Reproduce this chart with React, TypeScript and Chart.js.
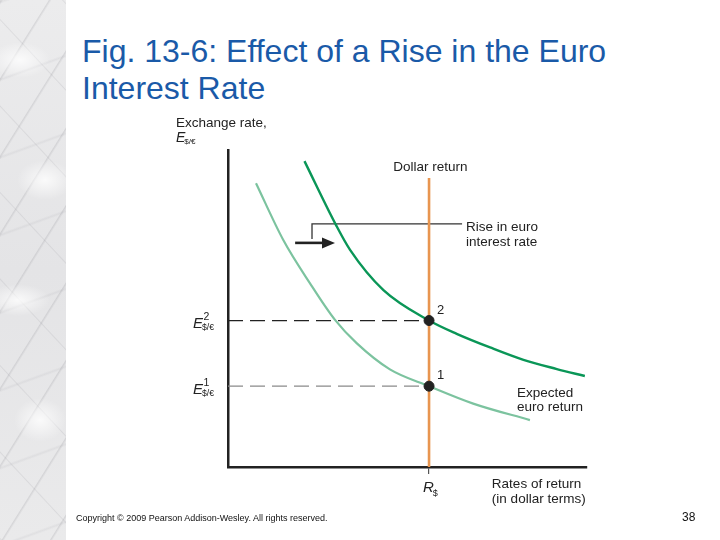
import React, { useEffect, useRef } from 'react';
import { Chart, registerables } from 'chart.js';

Chart.register(...registerables);

// ---- Data (axis units: 0..10 on both axes) ----
const RS = 5.6; // dollar interest rate
const E1 = 2.55; // initial equilibrium exchange rate
const E2 = 4.62; // new equilibrium exchange rate
const DOLLAR_TOP = 9.12;

const euroHighX = [2.13, 3.01, 3.4, 4.33, 5.6, 6.37, 7.3, 8.23, 9.16, 9.94];
const euroHighY = [9.65, 7.63, 6.85, 5.58, 4.62, 4.2, 3.77, 3.38, 3.09, 2.87];
const euroLowX = [0.78, 1.54, 2.28, 2.98, 3.59, 4.51, 5.6, 6.83, 8.41];
const euroLowY = [8.95, 7.16, 5.8, 4.64, 3.9, 3.08, 2.55, 2.0, 1.48];

const calloutX = [2.34, 2.34, 6.52];
const calloutY = [7.19, 7.67, 7.67];
const arrowX = [1.87, 2.98];
const arrowY = 7.07;

const plainLabels = [
  { t: 'Exchange rate,', x: -1.45, y: 10.73 },
  { t: 'Dollar return', x: 4.6, y: 9.34 },
  { t: 'Rise in euro', x: 6.63, y: 7.44 },
  { t: 'interest rate', x: 6.63, y: 6.97 },
  { t: 'Expected', x: 8.05, y: 2.21 },
  { t: 'euro return', x: 8.05, y: 1.77 },
  { t: 'Rates of return', x: 7.35, y: -0.66 },
  { t: '(in dollar terms)', x: 7.35, y: -1.14 },
];

const FONT = "'Liberation Sans', Arial, Helvetica, sans-serif";
const INK = '#222';

const zip = (xs: number[], ys: number[]) => xs.map((x, i) => ({ x, y: ys[i] }));

const labelPlugin = {
  id: 'figLabels',
  afterDatasetsDraw(chart: any) {
    const { ctx, scales } = chart;
    const X = (v: number) => scales.x.getPixelForValue(v);
    const Y = (v: number) => scales.y.getPixelForValue(v);
    ctx.save();
    ctx.fillStyle = INK;
    ctx.textBaseline = 'alphabetic';
    ctx.textAlign = 'left';

    // arrow
    const ax0 = X(arrowX[0]);
    const ax1 = X(arrowX[1]);
    const ay = Y(arrowY);
    ctx.strokeStyle = INK;
    ctx.lineWidth = 2.6;
    ctx.beginPath();
    ctx.moveTo(ax0, ay);
    ctx.lineTo(ax1 - 8, ay);
    ctx.stroke();
    ctx.beginPath();
    ctx.moveTo(ax1, ay);
    ctx.lineTo(ax1 - 13, ay - 5.5);
    ctx.lineTo(ax1 - 13, ay + 5.5);
    ctx.closePath();
    ctx.fill();

    // plain labels
    ctx.font = `13.5px ${FONT}`;
    plainLabels.forEach((l) => ctx.fillText(l.t, X(l.x), Y(l.y)));

    // equilibrium point numbers
    ctx.font = `13px ${FONT}`;
    ctx.fillText('2', X(RS) + 8, Y(E2) - 7);
    ctx.fillText('1', X(RS) + 8, Y(E1) - 7);

    // E labels
    const drawE = (px: number, base: number, size: number, sup: string | null) => {
      ctx.font = `italic ${size}px ${FONT}`;
      ctx.fillText('E', px, base);
      const w = ctx.measureText('E').width;
      ctx.font = `${size * 0.58}px ${FONT}`;
      ctx.fillText('$/€', px + w - 1, base + 2);
      if (sup) {
        ctx.font = `${size * 0.7}px ${FONT}`;
        ctx.fillText(sup, px + w + 0.5, base - 8);
      }
    };
    const left = chart.chartArea.left;
    drawE(X(-1.45), Y(10.25), 14, null);
    drawE(left - 35, Y(E2) + 7, 15, '2');
    drawE(left - 35, Y(E1) + 8, 15, '1');

    // R$
    const rb = chart.chartArea.bottom + 25;
    ctx.font = `italic 15px ${FONT}`;
    ctx.fillText('R', X(RS) - 6, rb);
    const rw = ctx.measureText('R').width;
    ctx.font = `9px ${FONT}`;
    ctx.fillText('$', X(RS) - 6 + rw - 1, rb + 4);

    ctx.restore();
  },
};

function FigureChart() {
  const ref = useRef<HTMLCanvasElement | null>(null);
  useEffect(() => {
    if (!ref.current) return;
    const chart = new Chart(ref.current, {
      type: 'scatter',
      data: {
        datasets: [
          {
            label: 'Equilibria',
            data: [
              { x: RS, y: E2 },
              { x: RS, y: E1 },
            ],
            showLine: false,
            pointRadius: 5,
            pointBackgroundColor: INK,
            pointBorderColor: INK,
            order: 0,
          },
          {
            label: 'Expected euro return (after rise)',
            data: zip(euroHighX, euroHighY),
            showLine: true,
            borderColor: '#0a9657',
            borderWidth: 2.4,
            pointRadius: 0,
            cubicInterpolationMode: 'monotone',
            order: 1,
          },
          {
            label: 'Expected euro return',
            data: zip(euroLowX, euroLowY),
            showLine: true,
            borderColor: '#7cc39f',
            borderWidth: 2.2,
            pointRadius: 0,
            cubicInterpolationMode: 'monotone',
            order: 2,
          },
          {
            label: 'Dollar return',
            data: [
              { x: RS, y: 0 },
              { x: RS, y: DOLLAR_TOP },
            ],
            showLine: true,
            borderColor: '#e8954f',
            borderWidth: 2.6,
            pointRadius: 0,
            order: 3,
          },
          {
            label: 'E2 guide',
            data: [
              { x: 0, y: E2 },
              { x: RS, y: E2 },
            ],
            showLine: true,
            borderColor: '#222',
            borderWidth: 1.2,
            borderDash: [15, 7],
            pointRadius: 0,
            order: 4,
          },
          {
            label: 'E1 guide',
            data: [
              { x: 0, y: E1 },
              { x: RS, y: E1 },
            ],
            showLine: true,
            borderColor: '#8a8a8a',
            borderWidth: 1.2,
            borderDash: [15, 7],
            pointRadius: 0,
            order: 4,
          },
          {
            label: 'Callout',
            data: zip(calloutX, calloutY),
            showLine: true,
            borderColor: '#333',
            borderWidth: 1.3,
            pointRadius: 0,
            tension: 0,
            order: 4,
          },
        ],
      },
      options: {
        animation: false,
        responsive: false,
        events: [],
        layout: { padding: { left: 228, right: 133, top: 150, bottom: 73 } },
        plugins: { legend: { display: false }, tooltip: { enabled: false } },
        scales: {
          x: {
            type: 'linear',
            min: 0,
            max: 10,
            afterBuildTicks: (s: any) => {
              s.ticks = [{ value: RS }];
            },
            afterFit: (s: any) => {
              s.height = 0;
            },
            ticks: { display: false },
            grid: {
              display: true,
              drawOnChartArea: false,
              drawTicks: true,
              tickLength: 7,
              color: '#555',
              lineWidth: 1.2,
            },
            border: { display: true, color: INK, width: 2.5 },
          },
          y: {
            type: 'linear',
            min: 0,
            max: 10,
            afterFit: (s: any) => {
              s.width = 0;
            },
            ticks: { display: false },
            grid: { display: false },
            border: { display: true, color: INK, width: 2.5 },
          },
        },
      },
      plugins: [labelPlugin],
    } as any);
    return () => chart.destroy();
  }, []);
  return (
    <canvas
      ref={ref}
      width={720}
      height={540}
      style={{ position: 'absolute', left: 0, top: 0, width: 720, height: 540 }}
    />
  );
}

const marble =
  'radial-gradient(ellipse 30px 18px at 20px 60px, rgba(255,255,255,0.8), rgba(255,255,255,0)),' +
  'radial-gradient(ellipse 28px 20px at 45px 180px, rgba(255,255,255,0.8), rgba(255,255,255,0)),' +
  'radial-gradient(ellipse 32px 16px at 18px 300px, rgba(255,255,255,0.8), rgba(255,255,255,0)),' +
  'radial-gradient(ellipse 26px 22px at 40px 420px, rgba(255,255,255,0.8), rgba(255,255,255,0)),' +
  'repeating-linear-gradient(122deg, rgba(120,120,128,0) 0px, rgba(120,120,128,0.18) 1px, rgba(120,120,128,0) 3px, rgba(0,0,0,0) 41px),' +
  'repeating-linear-gradient(47deg, rgba(130,130,138,0) 0px, rgba(130,130,138,0.14) 1px, rgba(130,130,138,0) 2px, rgba(0,0,0,0) 59px),' +
  'repeating-linear-gradient(160deg, rgba(150,150,158,0) 0px, rgba(150,150,158,0.12) 2px, rgba(150,150,158,0) 4px, rgba(0,0,0,0) 73px),' +
  'linear-gradient(180deg, #ececed, #e4e4e6 50%, #eaeaeb)';

export default function App() {
  return (
    <div
      style={{
        position: 'fixed',
        left: 0,
        top: 0,
        width: 720,
        height: 540,
        background: '#fff',
        overflow: 'hidden',
        fontFamily: FONT,
      }}
    >
      <div style={{ position: 'absolute', left: 0, top: 0, width: 66, height: 540, background: marble }} />
      <div
        style={{
          position: 'absolute',
          left: 82,
          top: 33,
          fontSize: 32,
          lineHeight: '37px',
          color: '#1a5aa8',
          whiteSpace: 'nowrap',
        }}
      >
        Fig. 13-6: Effect of a Rise in the Euro
        <br />
        Interest Rate
      </div>
      <FigureChart />
      <div
        style={{
          position: 'absolute',
          left: 76,
          top: 513,
          fontSize: 9,
          lineHeight: '10px',
          color: '#111',
          whiteSpace: 'nowrap',
        }}
      >
        Copyright © 2009 Pearson Addison-Wesley. All rights reserved.
      </div>
      <div style={{ position: 'absolute', left: 682, top: 510, fontSize: 12, lineHeight: '14px', color: '#111' }}>
        38
      </div>
    </div>
  );
}
